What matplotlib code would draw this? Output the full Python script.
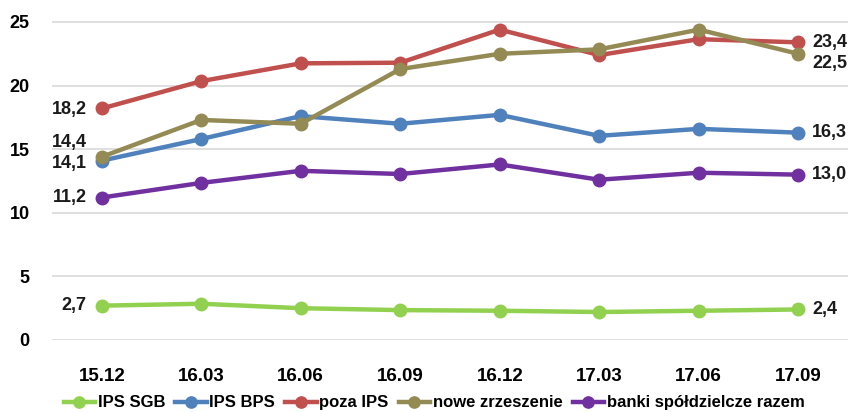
import matplotlib
matplotlib.use("Agg")
import matplotlib.pyplot as plt
import numpy as np

# quarters on the x axis
quarters = ["15.12", "16.03", "16.06", "16.09", "16.12", "17.03", "17.06", "17.09"]

ips_sgb = [2.7, 2.85, 2.5, 2.35, 2.3, 2.2, 2.3, 2.4]
ips_bps = [14.1, 15.8, 17.6, 17.0, 17.7, 16.05, 16.6, 16.3]
poza_ips = [18.2, 20.35, 21.75, 21.8, 24.4, 22.4, 23.65, 23.4]
nowe_zrzeszenie = [14.4, 17.3, 17.0, 21.3, 22.5, 22.85, 24.4, 22.5]
banki_razem = [11.2, 12.35, 13.3, 13.05, 13.8, 12.6, 13.15, 13.0]

series_names = ["IPS SGB", "IPS BPS", "poza IPS", "nowe zrzeszenie", "banki spółdzielcze razem"]
series_values = [ips_sgb, ips_bps, poza_ips, nowe_zrzeszenie, banki_razem]
series_colors = ["#92D050", "#4F81BD", "#C0504D", "#948A54", "#7030A0"]

yticks = [0, 5, 10, 15, 20, 25]

plt.rcParams["font.family"] = ["Liberation Sans", "DejaVu Sans"]
plt.rcParams["font.weight"] = "bold"

fig = plt.figure(figsize=(8.52, 4.12), dpi=100)
ax = fig.add_axes([52 / 852, 72 / 412, 796 / 852, 340 / 412])

x = np.arange(len(quarters))
for name, vals, col in zip(series_names, series_values, series_colors):
    ax.plot(x, vals, color=col, lw=3.2, marker="o", ms=9, label=name,
            solid_joinstyle="round", zorder=3)

def fmt(v):
    return f"{v:.1f}".replace(".", ",")

# value labels at the start and end of each line
lab_kw = dict(fontsize=13, fontweight="bold", color="#1a1a1a", va="center")
start_offsets = {"IPS SGB": 0, "IPS BPS": -2, "poza IPS": -1,
                 "nowe zrzeszenie": 10, "banki spółdzielcze razem": 0}
end_offsets = {"IPS SGB": 0, "IPS BPS": 0, "poza IPS": 0,
               "nowe zrzeszenie": -7, "banki spółdzielcze razem": 0}
for name, vals in zip(series_names, series_values):
    ax.annotate(fmt(vals[0]), (x[0], vals[0]), xytext=(-11, start_offsets[name]),
                textcoords="offset points", ha="right", **lab_kw)
    ax.annotate(fmt(vals[-1]), (x[-1], vals[-1]), xytext=(10, end_offsets[name]),
                textcoords="offset points", ha="left", **lab_kw)

ax.set_xlim(-0.5, len(quarters) - 0.5)
ax.set_ylim(0, 340 / 12.72)
ax.set_yticks(yticks)
ax.set_yticklabels([str(t) for t in yticks], fontsize=13, fontweight="bold")
ax.set_xticks(x)
ax.set_xticklabels(quarters, fontsize=13.5, fontweight="bold")
ax.tick_params(axis="both", length=0)
ax.tick_params(axis="x", pad=20)
ax.tick_params(axis="y", pad=16)
ax.grid(axis="y", color="#D9D9D9", lw=1.2, zorder=0)
for s in ax.spines.values():
    s.set_visible(False)
ax.set_facecolor("none")

leg = ax.legend(loc="center", bbox_to_anchor=(0.48, -0.185), ncol=5, frameon=False,
                prop={"size": 12, "weight": "bold"}, handlelength=1.9,
                handletextpad=0.15, columnspacing=0.6, markerscale=0.9)

fig.savefig("out.png", dpi=100)
